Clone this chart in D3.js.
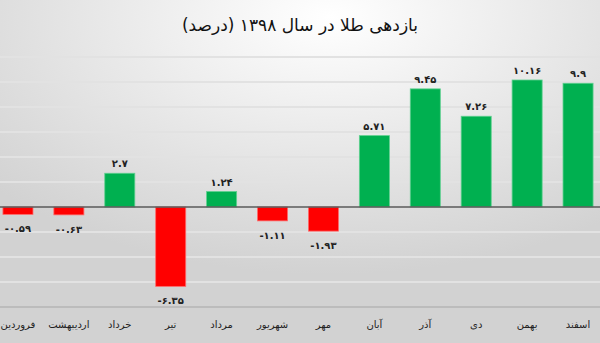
<!DOCTYPE html>
<html><head><meta charset="utf-8">
<script src="https://cdn.jsdelivr.net/npm/d3@7"></script>
<style>html,body{margin:0;padding:0;overflow:hidden;background:#fff}</style>
</head><body>
<svg id="c" width="600" height="343"></svg>
<script>
const months = ["فروردین","اردیبهشت","خرداد","تیر","مرداد","شهریور","مهر","آبان","آذر","دی","بهمن","اسفند"];
const values = [-0.59,-0.63,2.7,-6.35,1.24,-1.11,-1.93,5.71,9.45,7.26,10.16,9.9];
const labels = ["-0.59","-0.63","2.7","-6.35","1.24","-1.11","-1.93","5.71","9.45","7.26","10.16","9.9"];
const gridTicks = [12,10,8,6,4,2,-2,-4,-6];
const title = "بازدهی طلا در سال ۱۳۹۸ (درصد)";

const W=600,H=343;
const fa = s => s.replace(/[0-9]/g, d => "۰۱۲۳۴۵۶۷۸۹"[+d]).replace(/\./g,".");
const svg = d3.select("#c");
const defs = svg.append("defs");
const rg = defs.append("radialGradient").attr("id","bg").attr("cx","0.55").attr("cy","0.05").attr("r","0.75");
rg.append("stop").attr("offset","0").attr("stop-color","#ffffff");
rg.append("stop").attr("offset","1").attr("stop-color","#d2d2d2");
svg.append("rect").attr("width",W).attr("height",H).attr("fill","url(#bg)");

const x = d3.scaleBand().domain(months).range([-7.5,603.5]).paddingInner(0.41).paddingOuter(0.205);
const y = d3.scaleLinear().domain([-8,12]).range([307,57]);

svg.append("g").selectAll("line").data(gridTicks).join("line")
  .attr("x1",0).attr("x2",W).attr("y1",d=>y(d)).attr("y2",d=>y(d))
  .attr("stroke","#e2e2e2").attr("stroke-width",2);

svg.append("g").selectAll("rect").data(values).join("rect")
  .attr("x",(d,i)=>x(months[i]))
  .attr("width",x.bandwidth())
  .attr("y",d=>y(Math.max(0,d)))
  .attr("height",d=>Math.abs(y(d)-y(0)))
  .attr("fill",d=>d>=0?"#00b050":"#ff0000")
  .attr("stroke",d=>d>=0?"#5fd08f":"#ff6a6a").attr("stroke-width",0.8);

svg.append("line").attr("x1",0).attr("x2",W).attr("y1",y(0)).attr("y2",y(0))
  .attr("stroke","#5a5a5a").attr("stroke-width",1.5);
svg.append("line").attr("x1",0).attr("x2",W).attr("y1",y(-8)).attr("y2",y(-8))
  .attr("stroke","#b4b4b4").attr("stroke-width",1.5);

svg.append("g").selectAll("text").data(values).join("text")
  .attr("x",(d,i)=>x(months[i])+x.bandwidth()/2)
  .attr("y",d=>d>=0? y(d)-6 : y(d)+18)
  .attr("text-anchor","middle")
  .attr("direction","ltr")
  .attr("font-family","DejaVu Sans")
  .attr("font-weight","bold")
  .attr("font-size",10)
  .attr("fill","#222")
  .text((d,i)=>fa(labels[i]));

svg.append("g").selectAll("text").data(months).join("text")
  .attr("x",d=>x(d)+x.bandwidth()/2)
  .attr("y",328)
  .attr("text-anchor","middle")
  .attr("font-family","DejaVu Sans")
  .attr("font-size",10)
  .attr("fill","#222")
  .text(d=>d);

svg.append("text").attr("x",300).attr("y",31).attr("text-anchor","middle")
  .attr("direction","rtl")
  .attr("font-family","DejaVu Sans").attr("font-size",17).attr("fill","#111")
  .text(title);
</script>
</body></html>
